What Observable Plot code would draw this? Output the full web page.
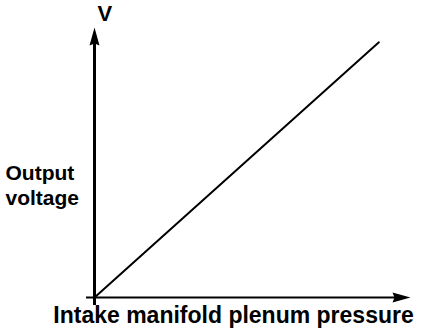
<!DOCTYPE html>
<html>
<head>
<meta charset="utf-8">
<script src="https://cdn.jsdelivr.net/npm/d3@7"></script>
<script src="https://cdn.jsdelivr.net/npm/@observablehq/plot@0.6"></script>
<style>
  html, body { margin: 0; padding: 0; background: #fff; }
  svg { display: block; }
</style>
</head>
<body>
<div id="chart"></div>
<script>
// Sensor characteristic: output voltage rises linearly with plenum pressure
const pressure = [0, 0.9];
const voltage = [0, 0.945];

// Axis extents (arrow tips sit at the end of each axis)
const axisMin = 0;
const axisMax = 1;

const xLabel = "Intake manifold plenum pressure";
const yLabel = "Output\nvoltage";
const yUnit = "V";

const curve = pressure.map((p, i) => ({p, v: voltage[i]}));

// Filled, slim arrowhead with its tip at the origin, pointing up
const arrowHead = {
  draw(context) {
    context.moveTo(0, 0);
    context.lineTo(5, 18);
    context.lineTo(0, 16);
    context.lineTo(-5, 18);
    context.closePath();
  }
};

const font = "Liberation Sans, Arial, Helvetica, sans-serif";

const chart = Plot.plot({
  width: 432,
  height: 336,
  marginLeft: 94,
  marginRight: 22,
  marginTop: 27,
  marginBottom: 39,
  x: {domain: [axisMin, axisMax], axis: null},
  y: {domain: [axisMin, axisMax], axis: null},
  style: {fontFamily: font, background: "#fff"},
  marks: [
    // axes
    Plot.ruleX([axisMin], {y1: axisMin, y2: axisMax, dy: 8, stroke: "black", strokeWidth: 3, strokeLinecap: "butt"}),
    Plot.ruleY([axisMin], {x1: axisMin, x2: axisMax, dx: -8, stroke: "black", strokeWidth: 2, strokeLinecap: "butt"}),
    Plot.dot([{x: axisMin, y: axisMax}], {x: "x", y: "y", symbol: arrowHead, fill: "black", stroke: "none", r: 5}),
    Plot.dot([{x: axisMax, y: axisMin}], {x: "x", y: "y", symbol: arrowHead, rotate: 90, fill: "black", stroke: "none", r: 5}),
    // characteristic line
    Plot.line(curve, {x: "p", y: "v", stroke: "black", strokeWidth: 2}),
    // labels
    Plot.text([yUnit], {frameAnchor: "top-left", dx: 3, dy: -14, fontSize: 22, fontWeight: "bold", lineAnchor: "middle", fill: "black"}),
    Plot.text([yLabel], {frameAnchor: "left", textAnchor: "start", dx: -89, dy: 22, fontSize: 21, fontWeight: "bold", lineHeight: 1.17, fill: "black"}),
    Plot.text([xLabel], {frameAnchor: "bottom", dx: -19, dy: 18, fontSize: 23, fontWeight: "bold", lineAnchor: "middle", fill: "black"})
  ]
});

document.getElementById("chart").appendChild(chart);
</script>
</body>
</html>
